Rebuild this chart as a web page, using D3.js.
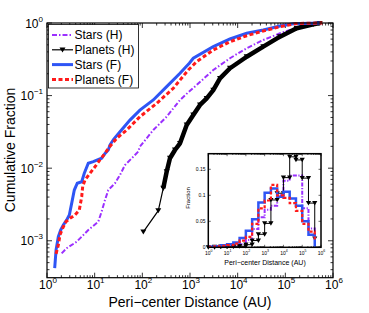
<!DOCTYPE html>
<html>
<head>
<script src="https://cdn.jsdelivr.net/npm/d3@7"></script>
<style>
    body{ margin:0; background:#fff; }
    svg{ font-family: "Liberation Sans", Arial, Helvetica, sans-serif; }
</style>
</head>
<body>
<svg id="chart" width="369" height="313"></svg>
<script>
// cumulative curves (main panel)
const starsH_x = [2.03, 2.59, 4.2, 7.35, 11.9, 14, 16.5, 19.3, 26.7, 34, 43, 60, 82, 89, 170, 324, 617, 920, 1380, 3080, 6900, 15460, 34450, 77200, 173000, 386000, 620000]
const starsH_y = [6.7e-4, 7.9e-4, 9.7e-4, 1.41e-3, 1.83e-3, 2.52e-3, 3.65e-3, 5.0e-3, 6.2e-3, 8.05e-3, 1.1e-2, 1.37e-2, 1.69e-2, 1.98e-2, 3.36e-2, 5.12e-2, 8.7e-2, 0.111, 0.14, 0.225, 0.327, 0.449, 0.583, 0.721, 0.861, 0.96, 1]

const planetsH_x = [105, 216, 275, 324, 380, 484, 617, 853, 1172, 1622, 2240, 3080, 4260, 6900, 15460, 34450, 77200, 173000, 386000, 530000]
const planetsH_y = [1.33e-3, 2.6e-3, 5.3e-3, 8.95e-3, 1.37e-2, 1.78e-2, 2.2e-2, 3.94e-2, 5.4e-2, 7.43e-2, 9.18e-2, 0.119, 0.173, 0.238, 0.343, 0.472, 0.648, 0.845, 0.96, 1]

const starsF_x = [1.45, 1.55, 1.73, 1.94, 2.2, 2.59, 2.94, 3.3, 3.74, 4.32, 5.35, 6.06, 7.35, 9.35, 14, 16.5, 19.3, 21, 25, 34, 55, 89, 170, 324, 617, 967, 1172, 3080, 6900, 15460, 34450, 77200, 147000, 530000]
const starsF_y = [4.2e-4, 7.5e-4, 1.14e-3, 1.41e-3, 1.65e-3, 1.94e-3, 2.27e-3, 3.3e-3, 5.0e-3, 6.2e-3, 6.5e-3, 8.5e-3, 1.17e-2, 1.23e-2, 1.37e-2, 1.6e-2, 1.78e-2, 2.1e-2, 2.5e-2, 3.18e-2, 4.6e-2, 6.3e-2, 8.7e-2, 0.133, 0.203, 0.279, 0.327, 0.472, 0.602, 0.721, 0.801, 0.91, 0.975, 1]

const planetsF_x = [1.55, 1.73, 1.87, 2.13, 2.5, 3.04, 3.87, 4.76, 5.35, 5.6, 6.27, 7.98, 10.2, 12.9, 16.5, 19.3, 29, 47, 89, 200, 446, 920, 1380, 3080, 6900, 15460, 34450, 77200, 173000, 600000]
const planetsF_y = [6.6e-4, 8.75e-4, 1.2e-3, 1.49e-3, 1.83e-3, 2.04e-3, 2.27e-3, 2.65e-3, 4.05e-3, 5.6e-3, 6.9e-3, 8.5e-3, 1.05e-2, 1.3e-2, 1.6e-2, 1.88e-2, 2.58e-2, 3.36e-2, 5.12e-2, 7.83e-2, 0.126, 0.225, 0.293, 0.425, 0.552, 0.668, 0.776, 0.889, 0.984, 1]

// inset histograms, bins of 1/3 decade from 10^0
const binEdges = d3.range(18).map(k => Math.pow(10, k / 3))
const starsH_h   = [0.001, 0.001, 0.001, 0.002, 0.003, 0.006, 0.014, 0.035, 0.058, 0.072, 0.08, 0.10, 0.128, 0.138, 0.138, 0.075, 0.036, 0.018]
const planetsH_h = [0, 0.001, 0.001, 0.001, 0.002, 0.002, 0.005, 0.013, 0.025, 0.046, 0.091, 0.104, 0.134, 0.174, 0.168, 0.133, 0.085, 0.017]
const starsF_h   = [0.001, 0.002, 0.004, 0.006, 0.009, 0.018, 0.032, 0.054, 0.086, 0.105, 0.113, 0.097, 0.107, 0.094, 0.08, 0.05, 0.024, 0.001]
const planetsF_h = [0.001, 0.002, 0.003, 0.004, 0.007, 0.013, 0.02, 0.045, 0.075, 0.09, 0.12, 0.1, 0.095, 0.085, 0.07, 0.045, 0.03, 0.015]

const legendNames = ["Stars (H)", "Planets (H)", "Stars (F)", "Planets (F)"]
const xTickExp = [0, 1, 2, 3, 4, 5, 6]
const yTickExp = [-3, -2, -1, 0]
const insetYTicks = [0, 0.05, 0.1, 0.15]

const purple = "#9b30ff", blue = "#2e55f5", red = "#ff1a1a"
const styles = [
    {color: purple, width: 2, dash: "5,2,1.5,2"},
    {color: "#000", width: 1.2, dash: null},
    {color: blue, width: 3, dash: null},
    {color: red, width: 3, dash: "4,2.5"}
]

const svg = d3.select("#chart")
const box = {left: 47, right: 333, top: 23, bottom: 277.7}

const x = d3.scaleLog().domain([1, 1e6]).range([box.left, box.right])
const y = d3.scaleLog().domain([3.1e-4, 1]).range([box.bottom, box.top])

svg.append("clipPath").attr("id", "clipMain")
    .append("rect").attr("x", box.left).attr("y", box.top - 2)
    .attr("width", box.right - box.left).attr("height", box.bottom - box.top + 2)

function tri(s){
    return `M${-s},${-s*0.8}L${s},${-s*0.8}L0,${s*0.9}Z`
}

function supText(g, xp, yp, exp, anchor, size, supSize, rise){
    const t = g.append("text").attr("x", xp).attr("y", yp)
        .attr("text-anchor", anchor).attr("font-size", size).attr("fill", "#000")
    t.append("tspan").text("10")
    t.append("tspan").attr("font-size", supSize).attr("dy", -rise)
        .text(String(exp).replace("-", "\u2212"))
    return t
}

// ticks for a log axis pair
function logMinors(lo, hi){
    const out = []
    for (let e = Math.floor(Math.log10(lo)); e <= Math.ceil(Math.log10(hi)); e++){
        for (let m = 1; m <= 9; m++){
            const v = m * Math.pow(10, e)
            if (v >= lo * 0.999 && v <= hi * 1.001) out.push({v: v, major: m === 1})
        }
    }
    return out
}

const main = svg.append("g")

// main ticks (inward, all sides)
const tk = main.append("g").attr("stroke", "#000").attr("stroke-width", 0.8)
logMinors(1, 1e6).forEach(t => {
    const px = x(t.v), L = t.major ? 5 : 2.5
    tk.append("line").attr("x1", px).attr("x2", px).attr("y1", box.bottom).attr("y2", box.bottom - L)
    tk.append("line").attr("x1", px).attr("x2", px).attr("y1", box.top).attr("y2", box.top + L)
})
logMinors(3.1e-4, 1).forEach(t => {
    const py = y(t.v), L = t.major ? 5 : 2.5
    tk.append("line").attr("y1", py).attr("y2", py).attr("x1", box.left).attr("x2", box.left + L)
    tk.append("line").attr("y1", py).attr("y2", py).attr("x1", box.right).attr("x2", box.right - L)
})

// curves
const curves = main.append("g").attr("clip-path", "url(#clipMain)")
const line = d3.line().x(d => x(d[0])).y(d => y(d[1]))
const series = [
    d3.zip(starsH_x, starsH_y),
    d3.zip(planetsH_x, planetsH_y),
    d3.zip(starsF_x, starsF_y),
    d3.zip(planetsF_x, planetsF_y)
]
series.forEach((pts, i) => {
    const s = styles[i]
    curves.append("path").attr("d", line(pts)).attr("fill", "none")
        .attr("stroke", s.color).attr("stroke-width", s.width)
        .attr("stroke-dasharray", s.dash)
    if (i === 1){
        // dense part of the planet curve reads as a thick band
        curves.append("path").attr("d", line(pts.slice(2))).attr("fill", "none")
            .attr("stroke", "#000").attr("stroke-width", 4.5).attr("stroke-linejoin", "round")
        curves.selectAll(".mk").data(pts).enter().append("path")
            .attr("d", tri(3))
            .attr("transform", d => `translate(${x(d[0])},${y(d[1])})`)
            .attr("fill", "#000")
    }
})

main.append("rect").attr("x", box.left).attr("y", box.top)
    .attr("width", box.right - box.left).attr("height", box.bottom - box.top)
    .attr("fill", "none").attr("stroke", "#000").attr("stroke-width", 1.2)

// main tick labels
xTickExp.forEach(e => supText(main, x(Math.pow(10, e)) + 1, 289, e, "middle", 12, 8, 6))
yTickExp.forEach(e => supText(main, 43, y(Math.pow(10, e)) + 4.5, e, "end", 12, 8, 6))

main.append("text").attr("x", 190).attr("y", 306.5).attr("text-anchor", "middle")
    .attr("font-size", 14).text("Peri\u2212center Distance (AU)")
main.append("text").attr("transform", "translate(15,150) rotate(-90)")
    .attr("text-anchor", "middle").attr("font-size", 14).text("Cumulative Fraction")

// legend
const lg = main.append("g")
lg.append("rect").attr("x", 48.5).attr("y", 24.5).attr("width", 90).attr("height", 63.5)
    .attr("fill", "#fff").attr("stroke", "#000").attr("stroke-width", 0.8)
legendNames.forEach((name, i) => {
    const ly = 35 + i * 14.8, s = styles[i]
    lg.append("line").attr("x1", 52).attr("x2", 73).attr("y1", ly).attr("y2", ly)
        .attr("stroke", s.color).attr("stroke-width", i === 1 ? 1.2 : (i === 0 ? 2 : 3))
        .attr("stroke-dasharray", s.dash)
    if (i === 1) lg.append("path").attr("d", tri(3)).attr("transform", `translate(62.5,${ly})`)
    lg.append("text").attr("x", 74.5).attr("y", ly + 4.3).attr("font-size", 12).text(name)
})

// inset
const ib = {left: 208.3, right: 321, top: 153.7, bottom: 247.3}
const ix = d3.scaleLog().domain([1, 1e6]).range([ib.left, ib.right])
const iy = d3.scaleLinear().domain([0, 0.18]).range([ib.bottom, ib.top])
const inset = svg.append("g")
inset.append("rect").attr("x", ib.left).attr("y", ib.top)
    .attr("width", ib.right - ib.left).attr("height", ib.bottom - ib.top).attr("fill", "#fff")

const itk = inset.append("g").attr("stroke", "#000").attr("stroke-width", 0.6)
logMinors(1, 1e6).forEach(t => {
    const px = ix(t.v), L = t.major ? 2.5 : 1.3
    itk.append("line").attr("x1", px).attr("x2", px).attr("y1", ib.bottom).attr("y2", ib.bottom - L)
    itk.append("line").attr("x1", px).attr("x2", px).attr("y1", ib.top).attr("y2", ib.top + L)
})
insetYTicks.forEach(v => {
    const py = iy(v)
    itk.append("line").attr("y1", py).attr("y2", py).attr("x1", ib.left).attr("x2", ib.left + 2.5)
    itk.append("line").attr("y1", py).attr("y2", py).attr("x1", ib.right).attr("x2", ib.right - 2.5)
})

function stairs(xs, ys){
    const pts = []
    xs.forEach((xv, i) => {
        if (i > 0) pts.push([xv, ys[i - 1]])
        pts.push([xv, ys[i]])
    })
    return pts
}
const iline = d3.line().x(d => ix(d[0])).y(d => iy(d[1]))
const hists = [starsH_h, planetsH_h, starsF_h, planetsF_h]
const istyle = [
    {color: purple, width: 2, dash: "4,1.5,1.2,1.5"},
    {color: "#000", width: 1, dash: null},
    {color: blue, width: 2.5, dash: null},
    {color: red, width: 2.2, dash: "3,2"}
]
hists.forEach((h, i) => {
    const pts = stairs(binEdges, h), s = istyle[i]
    inset.append("path").attr("d", iline(pts)).attr("fill", "none")
        .attr("stroke", s.color).attr("stroke-width", s.width)
        .attr("stroke-dasharray", s.dash)
    if (i === 1){
        inset.selectAll(".imk").data(pts).enter().append("path")
            .attr("d", tri(2.6))
            .attr("transform", d => `translate(${ix(d[0])},${iy(d[1])})`)
            .attr("fill", "#000")
    }
})

inset.append("rect").attr("x", ib.left).attr("y", ib.top)
    .attr("width", ib.right - ib.left).attr("height", ib.bottom - ib.top)
    .attr("fill", "none").attr("stroke", "#000").attr("stroke-width", 1.5)

xTickExp.forEach(e => supText(inset, ix(Math.pow(10, e)) + 0.5, 254.5, e, "middle", 5, 3.5, 2.5))
insetYTicks.forEach(v => inset.append("text").attr("x", 205.5).attr("y", iy(v) + 2)
    .attr("text-anchor", "end").attr("font-size", 5).text(String(v)))

inset.append("text").attr("x", 265).attr("y", 264.5).attr("text-anchor", "middle")
    .attr("font-size", 7).text("Peri\u2212center Distance (AU)")
inset.append("text").attr("transform", "translate(190,198) rotate(-90)")
    .attr("text-anchor", "middle").attr("font-size", 6).text("Fraction")
</script>
</body>
</html>
